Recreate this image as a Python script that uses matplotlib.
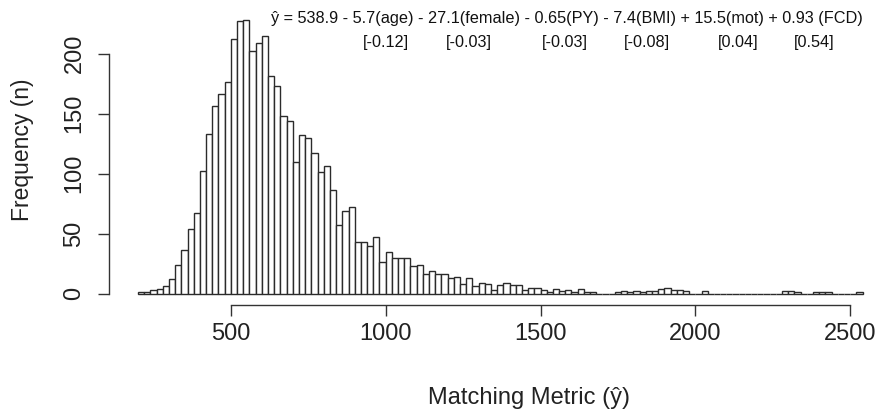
import numpy as np
import matplotlib
matplotlib.use("Agg")
import matplotlib.pyplot as plt

plt.rcParams["font.family"] = ["Liberation Sans", "DejaVu Sans"]

# ==========================================
# HISTOGRAM COUNTS (bins of width 20, from 200)
# ==========================================

bin_start = 200
bin_width = 20

counts = [
    1, 1, 3, 4, 6,            # 200s
    12, 24, 36, 54, 67,       # 300s
    102, 133, 156, 166, 176,  # 400s
    212, 227, 228, 202, 209,  # 500s
    215, 181, 173, 148, 144,  # 600s
    110, 132, 130, 117, 101,  # 700s
    106, 86, 57, 69, 72,      # 800s
    43, 43, 40, 47, 26,       # 900s
    35, 30, 30, 30, 23,       # 1000s
    24, 16, 19, 16, 16,       # 1100s
    13, 14, 8, 13, 6,         # 1200s
    9, 8, 3, 7, 9,            # 1300s
    7, 7, 3, 5, 5,            # 1400s
    3, 1, 4, 2, 3,            # 1500s
    1, 4, 1, 1, 0,            # 1600s
    0, 0, 1, 2, 1,            # 1700s
    2, 1, 2, 2, 4,            # 1800s
    5, 3, 3, 2, 0,            # 1900s
    0, 2, 0, 0, 0,            # 2000s
    0, 0, 0, 0, 0,            # 2100s
    0, 0, 0, 0, 2,            # 2200s
    2, 1, 0, 0, 1,            # 2300s
    1, 1, 0, 0, 0,            # 2400s
    0, 1,                     # 2500s
]

x_ticks = [500, 1000, 1500, 2000, 2500]
y_ticks = [0, 50, 100, 150, 200]

equation = "ŷ = 538.9 - 5.7(age) - 27.1(female) - 0.65(PY) - 7.4(BMI) + 15.5(mot) + 0.93 (FCD)"
std_coefs = ["[-0.12]", "[-0.03]", "[-0.03]", "[-0.08]", "[0.04]", "[0.54]"]
std_coef_x = [386, 469, 565, 647, 738, 814]   # pixel centres of the bracket row

# ==========================================
# PLOT
# ==========================================

W, H = 882, 415
fig = plt.figure(figsize=(W / 100, H / 100), dpi=100)

# plot region in pixels (R style, 4% padding around the data)
left, right, top, bottom = 109, 891.5, 9, 304.5
ax = fig.add_axes([left / W, 1 - bottom / H, (right - left) / W, (bottom - top) / H])

edges = bin_start + bin_width * np.arange(len(counts))
ax.bar(edges, counts, width=bin_width, align="edge",
       facecolor="white", edgecolor="#2b2b2b", linewidth=1.0)

x_lo, x_hi = bin_start, bin_start + bin_width * len(counts)
pad = 0.04 * (x_hi - x_lo)
ax.set_xlim(x_lo - pad, x_hi + pad)
ax.set_ylim(-0.04 * max(counts), 1.04 * max(counts))

for side in ["top", "right"]:
    ax.spines[side].set_visible(False)
ax.spines["bottom"].set_bounds(x_ticks[0], x_ticks[-1])
ax.spines["left"].set_bounds(y_ticks[0], y_ticks[-1])
for side in ["bottom", "left"]:
    ax.spines[side].set_color("#333333")
    ax.spines[side].set_linewidth(1.0)

ax.set_xticks(x_ticks)
ax.set_yticks(y_ticks)
ax.set_yticklabels([str(v) for v in y_ticks], rotation=90, va="center")
ax.tick_params(axis="both", length=8, width=1.0, color="#333333",
               labelsize=17, labelcolor="#222222")
ax.tick_params(axis="x", pad=5)
ax.tick_params(axis="y", pad=9)

fig.text(22 / W, 1 - 150 / H, "Frequency (n)", rotation=90,
         ha="center", va="center", fontsize=16.5, color="#222222")
fig.text(529 / W, 1 - 398 / H, "Matching Metric (ŷ)",
         ha="center", va="center", fontsize=17, color="#222222")

fig.text(567 / W, 1 - 19 / H, equation, ha="center", va="center",
         fontsize=11.7, color="#111111")
for label, px in zip(std_coefs, std_coef_x):
    fig.text(px / W, 1 - 42 / H, label, ha="center", va="center",
             fontsize=11.7, color="#111111")

fig.savefig("out.png", dpi=100)
